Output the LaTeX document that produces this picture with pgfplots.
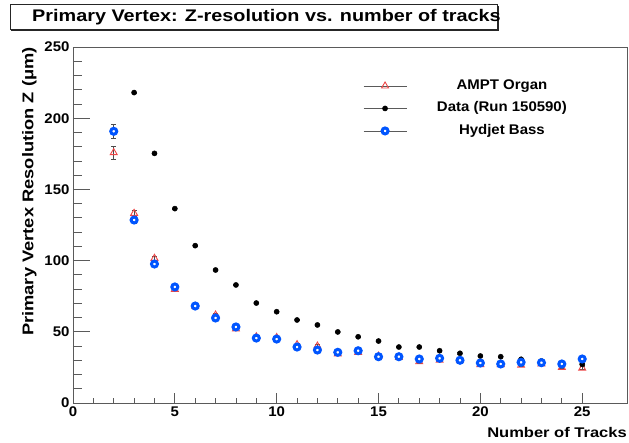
\documentclass[border=0pt]{standalone}
\usepackage{pgfplots}
\pgfplotsset{compat=1.18}
\usepackage{pgfplotstable}
\usepackage{fontspec}
\setmainfont{Liberation Sans}
\newfontfamily\widefont[FakeStretch=1.18]{Liberation Sans}
\newfontfamily\midfont[FakeStretch=1.07]{Liberation Sans}
\usetikzlibrary{calc}
\definecolor{ampt}{RGB}{238,70,70}
\definecolor{hyd}{RGB}{0,85,255}
\definecolor{axgray}{RGB}{90,90,90}

\pgfplotstableread{
x y e
2 175.8 4.5
3 133.2 2.0
4 101.6 1.5
5 79.8 1.5
6 68.0 1.2
7 61.8 1.2
8 52.0 1.2
9 46.5 1.0
10 46.0 1.0
11 41.0 1.0
12 40.0 1.0
13 34.5 1.0
14 35.5 1.0
15 33.0 1.0
16 32.0 1.0
17 29.0 1.0
18 30.0 1.0
19 30.0 1.0
20 27.0 1.0
21 27.0 1.0
22 26.5 1.0
23 27.5 1.0
24 25.0 1.0
25 24.5 1.0
}\amptdata

\pgfplotstableread{
x y e
3 218.0 0.5
4 175.3 0.5
5 136.5 0.5
6 110.5 0.5
7 93.4 0.5
8 82.9 0.5
9 70.2 0.5
10 64.1 0.5
11 58.3 0.5
12 54.8 0.5
13 49.9 0.5
14 46.5 0.5
15 43.5 0.5
16 39.3 0.5
17 39.3 0.5
18 36.7 0.5
19 34.9 0.5
20 33.0 0.5
21 32.5 0.5
22 30.7 0.5
23 29.5 0.5
24 27.9 0.5
25 27.2 0.5
}\rundata

\pgfplotstableread{
x y e
2 190.8 5.0
3 128.5 2.5
4 97.6 1.5
5 81.5 1.5
6 68.1 1.2
7 59.7 1.2
8 53.4 1.2
9 45.6 1.0
10 44.9 1.0
11 39.3 1.0
12 37.2 1.0
13 35.6 1.0
14 36.7 1.0
15 32.5 1.0
16 32.5 1.0
17 30.9 1.0
18 31.4 1.0
19 30.0 1.0
20 28.1 1.0
21 27.4 1.0
22 28.6 1.0
23 28.3 1.0
24 27.4 1.0
25 30.9 1.0
}\hyddata

\begin{document}
\begin{tikzpicture}
\begin{axis}[
  scale only axis, width=554bp, height=356bp,
  xmin=0, xmax=27.2, ymin=0, ymax=250,
  axis line style={axgray, line width=0.8bp},
  xtick={0,5,...,25}, minor x tick num=4,
  ytick=\empty,
  xtick pos=bottom,
  tick align=inside,
  major tick length=10bp, minor tick length=5bp,
  tick style={axgray, line width=0.8bp},
  /pgf/number format/assume math mode=true,
  xticklabel style={font=\midfont\bfseries\fontsize{14bp}{16bp}\selectfont, text=black},
  xlabel={\widefont\bfseries\fontsize{14bp}{16bp}\selectfont Number of Tracks},
  xlabel style={at={(rel axis cs:1,-0.0983)}, anchor=base east, inner sep=0pt},
  legend style={at={(rel axis cs:0.518,0.915)}, anchor=north west, draw=none, fill=none,
    font=\midfont\bfseries\fontsize{14bp}{16bp}\selectfont,
    nodes={inner sep=0pt, text height=10bp, text depth=3bp},
    row sep=9.5bp,
    /tikz/every odd column/.append style={column sep=30bp}},
  legend cell align=center,
  legend image code/.code={\draw[axgray, line width=0.8bp] (0bp,0bp) -- (43bp,0bp);
     \draw[#1] plot coordinates {(21.5bp,0bp)};},
  error bars/y dir=both, error bars/y explicit,
  error bars/error bar style={black!70, line width=0.7bp},
  error bars/error mark options={rotate=90, black!70, mark size=2.5bp, line width=0.7bp},
]
\addplot[only marks, mark=triangle, mark size=4bp, mark options={ampt, line width=0.9bp}]
  table[x=x, y=y, y error=e] {\amptdata};
\addlegendentry{AMPT Organ}
\addplot[only marks, mark=*, mark size=2.6bp, mark options={black, fill=black}]
  table[x=x, y=y, y error=e] {\rundata};
\addlegendentry{Data (Run 150590)}
\addplot[only marks, mark=*, mark size=3bp, mark options={draw=hyd, fill=white, line width=3bp}]
  table[x=x, y=y, y error=e] {\hyddata};
\addlegendentry{Hydjet Bass}
\coordinate (TL) at (rel axis cs:0,1);
\end{axis}
\begin{axis}[
  scale only axis, width=554bp, height=356bp,
  xmin=0, xmax=27.2, ymin=0, ymax=250,
  axis line style={draw=none},
  xtick=\empty,
  ytick={0,50,...,250}, minor y tick num=4,
  ytick pos=left,
  tick align=inside,
  major tick length=17bp, minor tick length=9bp,
  tick style={axgray, line width=0.8bp},
  /pgf/number format/assume math mode=true,
  yticklabel style={font=\midfont\bfseries\fontsize{14bp}{16bp}\selectfont, text=black},
  ylabel={\widefont\bfseries\fontsize{15.5bp}{18bp}\selectfont Primary Vertex Resolution Z (μm)},
  ylabel style={at={(rel axis cs:-0.0713,1)}, anchor=base east, inner sep=0pt},
]
\end{axis}
\fill[black!85] ($(TL)+(-61.5bp,16bp)$) rectangle ($(TL)+(425.5bp,40.8bp)$);
\filldraw[fill=white, draw=black!85, line width=0.8bp] ($(TL)+(-63bp,17.5bp)$) rectangle ($(TL)+(424bp,42.3bp)$);
\node[anchor=base west, inner sep=0pt] at ($(TL)+(-41bp,25bp)$) {\widefont\bfseries\fontsize{16.8bp}{20bp}\selectfont Primary Vertex: Z-resolution vs. number of tracks};
\pgfresetboundingbox
\path ($(TL)+(-73bp,-396bp)$) rectangle ($(TL)+(556bp,47bp)$);
\end{tikzpicture}
\end{document}
